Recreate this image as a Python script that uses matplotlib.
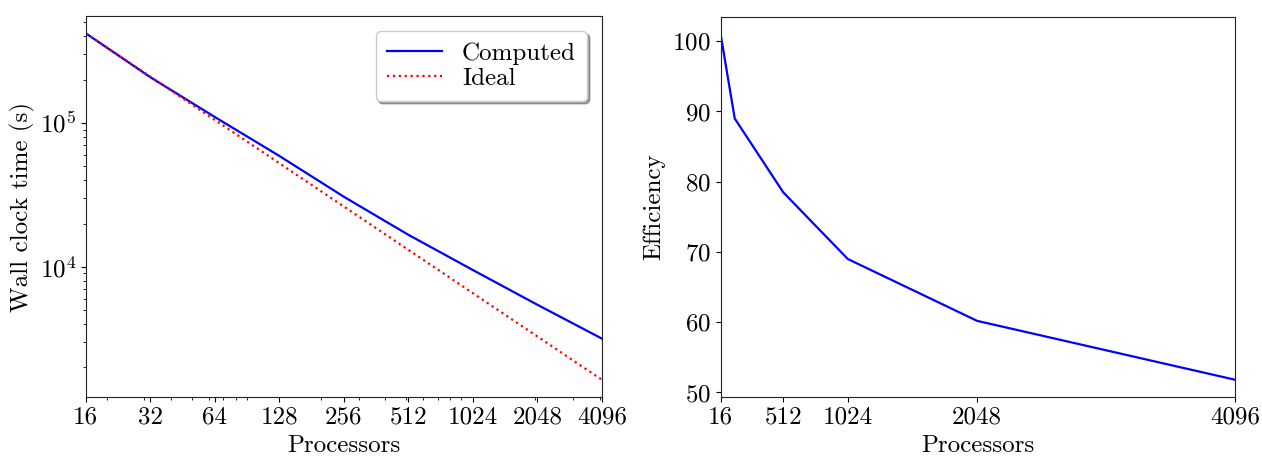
import matplotlib
matplotlib.use('Agg')
import matplotlib.pyplot as plt
from matplotlib.ticker import NullFormatter

plt.rcParams['font.family'] = 'cmr10'
plt.rcParams['mathtext.fontset'] = 'cm'
plt.rcParams['axes.formatter.use_mathtext'] = True
plt.rcParams['font.size'] = 18

# ---- DATA ---- #
procs = [16, 32, 64, 128, 256, 512, 1024, 2048, 4096]
wall_time = [4.2e5, 2.08e5, 1.10e5, 5.9e4, 3.07e4, 1.67e4, 9.5e3, 5.45e3, 3.17e3]
ideal_time = [wall_time[0] * procs[0] / p for p in procs]

eff_procs = [16, 128, 256, 512, 1024, 2048, 4096]
efficiency = [101.0, 89.0, 85.5, 78.5, 69.0, 60.2, 51.8]

left_ticks = [16, 32, 64, 128, 256, 512, 1024, 2048, 4096]
right_ticks = [16, 512, 1024, 2048, 4096]

# ---- FIGURE ---- #
fig = plt.figure(figsize=(12.62, 4.57), dpi=100)
ax1 = fig.add_axes([0.068, 0.131, 0.409, 0.834])
ax2 = fig.add_axes([0.571, 0.131, 0.408, 0.832])

# ---- WALL CLOCK TIME ---- #
ax1.plot(procs, wall_time, color='#0000ff', lw=1.6, label='Computed')
ax1.plot(procs, ideal_time, color='#ff0000', lw=1.6, ls=':', label='Ideal')
ax1.set_xscale('log')
ax1.set_yscale('log')
ax1.set_xlim(16, 4096)
ax1.set_xticks(left_ticks)
ax1.set_xticklabels([str(t) for t in left_ticks])
ax1.xaxis.set_minor_formatter(NullFormatter())
ax1.set_xlabel('Processors', labelpad=4)
ax1.set_ylabel('Wall clock time (s)', labelpad=3)
ax1.legend(loc='upper right', shadow=True, fancybox=True, handlelength=2.2,
           borderpad=0.45, labelspacing=0.1, borderaxespad=0.6)

# ---- EFFICIENCY ---- #
ax2.plot(eff_procs, efficiency, color='#0000ff', lw=1.6)
ax2.set_xlim(16, 4096)
ax2.set_xticks(right_ticks)
ax2.set_xticklabels([str(t) for t in right_ticks])
ax2.set_yticks([50, 60, 70, 80, 90, 100])
ax2.set_xlabel('Processors', labelpad=4)
ax2.set_ylabel('Efficiency', labelpad=5)

for ax in (ax1, ax2):
    for sp in ax.spines.values():
        sp.set_color('#222222')

fig.savefig('out.png', dpi=100)
